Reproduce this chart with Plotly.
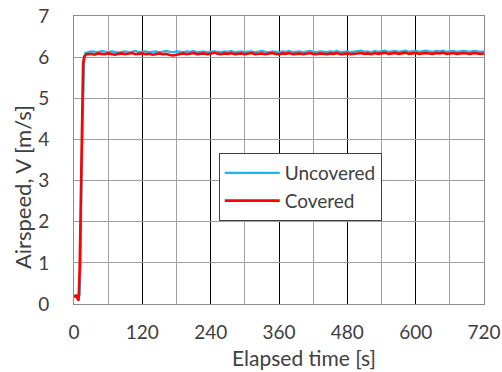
import plotly.graph_objects as go

rise_t = [0, 2, 4, 6, 8, 10, 12, 14, 16, 18, 20, 22]
plateau_t = list(range(24, 721, 6))
time_s = rise_t + plateau_t

uncovered_rise = [0.22, 0.20, 0.18, 0.20, 0.15, 0.22, 1.5, 3.8, 5.4, 5.95, 6.10, 6.12]
covered_rise = [0.20, 0.18, 0.20, 0.15, 0.08, 0.9, 3.0, 5.0, 5.85, 6.02, 6.06, 6.07]

uncovered_plateau = [
    6.12, 6.14, 6.13, 6.12, 6.15, 6.13, 6.12, 6.14, 6.13, 6.11,
    6.13, 6.14, 6.12, 6.13, 6.15, 6.12, 6.13, 6.14, 6.12, 6.13,
    6.14, 6.12, 6.13, 6.15, 6.13, 6.12, 6.14, 6.13, 6.12, 6.14,
    6.13, 6.15, 6.12, 6.13, 6.14, 6.12, 6.13, 6.14, 6.13, 6.12,
    6.14, 6.13, 6.15, 6.12, 6.13, 6.14, 6.12, 6.13, 6.14, 6.12,
    6.13, 6.15, 6.13, 6.12, 6.14, 6.13, 6.12, 6.14, 6.13, 6.15,
    6.12, 6.13, 6.14, 6.12, 6.13, 6.15, 6.13, 6.12, 6.14, 6.13,
    6.12, 6.14, 6.13, 6.15, 6.12, 6.13, 6.14, 6.12, 6.13, 6.14,
    6.16, 6.13, 6.14, 6.12, 6.15, 6.13, 6.14, 6.16, 6.13, 6.14,
    6.15, 6.13, 6.14, 6.16, 6.13, 6.14, 6.15, 6.13, 6.14, 6.16,
    6.14, 6.13, 6.15, 6.14, 6.16, 6.13, 6.14, 6.15, 6.13, 6.14,
    6.15, 6.14, 6.13, 6.15, 6.14, 6.13, 6.14,
]
covered_plateau = [
    6.07, 6.08, 6.06, 6.09, 6.08, 6.07, 6.09, 6.08, 6.06, 6.08,
    6.09, 6.07, 6.08, 6.10, 6.07, 6.08, 6.09, 6.07, 6.08, 6.06,
    6.08, 6.09, 6.07, 6.08, 6.05, 6.04, 6.06, 6.08, 6.09, 6.07,
    6.08, 6.10, 6.07, 6.08, 6.09, 6.07, 6.08, 6.11, 6.08, 6.07,
    6.09, 6.08, 6.10, 6.07, 6.08, 6.09, 6.07, 6.08, 6.10, 6.07,
    6.08, 6.09, 6.07, 6.08, 6.10, 6.08, 6.07, 6.09, 6.08, 6.10,
    6.07, 6.08, 6.09, 6.07, 6.08, 6.10, 6.08, 6.07, 6.09, 6.08,
    6.07, 6.09, 6.08, 6.10, 6.07, 6.08, 6.09, 6.07, 6.08, 6.09,
    6.10, 6.08, 6.09, 6.07, 6.10, 6.08, 6.09, 6.11, 6.08, 6.09,
    6.10, 6.08, 6.09, 6.11, 6.08, 6.09, 6.10, 6.08, 6.09, 6.10,
    6.09, 6.08, 6.10, 6.09, 6.11, 6.08, 6.09, 6.10, 6.08, 6.09,
    6.10, 6.09, 6.08, 6.10, 6.09, 6.08, 6.09,
]

uncovered = uncovered_rise + uncovered_plateau
covered = covered_rise + covered_plateau

x_ticks = [0, 120, 240, 360, 480, 600, 720]
y_ticks = [0, 1, 2, 3, 4, 5, 6, 7]
x_title = "Elapsed time [s]"
y_title = "Airspeed, V [m/s]"

FONT = "Lato"
TXT = "#404040"
fig = go.Figure()
fig.add_trace(go.Scatter(x=time_s, y=uncovered, mode="lines", name="Uncovered",
                         line=dict(color="#1EB4EC", width=2.2)))
fig.add_trace(go.Scatter(x=time_s, y=covered, mode="lines", name="Covered",
                         line=dict(color="#FF0000", width=2.6)))

fig.update_layout(
    width=502, height=372,
    margin=dict(l=74, r=18, t=16, b=68, autoexpand=False),
    paper_bgcolor="white", plot_bgcolor="white",
    font=dict(family=FONT, size=19, color=TXT),
    showlegend=True,
    legend=dict(x=0.353, y=0.406, xanchor="left", yanchor="middle",
                bgcolor="white", bordercolor="#404040", borderwidth=1,
                font=dict(family=FONT, size=19, color=TXT),
                itemwidth=55, tracegroupgap=0),
    xaxis=dict(range=[0, 720], tickvals=x_ticks, ticktext=[str(v) for v in x_ticks],
               showgrid=True, gridcolor="#000000", gridwidth=1,
               minor=dict(dtick=60, tick0=0, showgrid=True, gridcolor="#A0A0A0", gridwidth=1),
               showline=True, linecolor="#8C8C8C", linewidth=1, mirror=True,
               zeroline=False, ticks="", ticklabelstandoff=11, automargin=False,
               tickfont=dict(family=FONT, size=19, color=TXT)),
    yaxis=dict(range=[0, 7], tickvals=y_ticks,
               showgrid=True, gridcolor="#A0A0A0", gridwidth=1,
               showline=True, linecolor="#8C8C8C", linewidth=1, mirror=True,
               zeroline=False, ticks="", ticklabelstandoff=20, automargin=False,
               tickfont=dict(family=FONT, size=19, color=TXT)),
    annotations=[
        dict(text=x_title, xref="paper", yref="paper", x=0.56, y=-0.185,
             xanchor="center", yanchor="middle", showarrow=False,
             font=dict(family=FONT, size=21, color=TXT)),
        dict(text=y_title, xref="paper", yref="paper", x=-0.1268, y=0.406,
             xanchor="center", yanchor="middle", showarrow=False, textangle=-90,
             font=dict(family=FONT, size=22, color=TXT)),
    ],
)

fig.write_html("out.html", config={"displayModeBar": False},
               post_script="document.body.style.margin='0';")
